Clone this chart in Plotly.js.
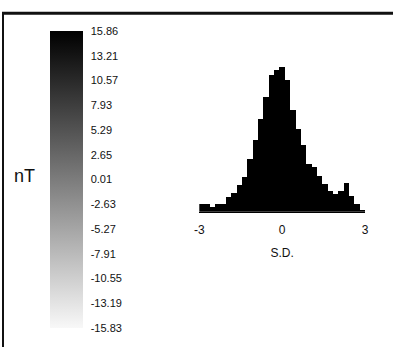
<!DOCTYPE html>
<html>
<head>
<meta charset="utf-8">
<script src="https://cdn.plot.ly/plotly-3.0.1.min.js"></script>
<style>
  html, body { margin: 0; padding: 0; background: #fff; }
  #chart { width: 393px; height: 347px; }
</style>
</head>
<body>
<div id="chart"></div>
<script>
// Colour bar (nT)
const cbTickVals = [15.86, 13.21, 10.57, 7.93, 5.29, 2.65, 0.01, -2.63, -5.27, -7.91, -10.55, -13.19, -15.83];
const cbTickText = ["15.86", "13.21", "10.57", "7.93", "5.29", "2.65", "0.01", "-2.63", "-5.27", "-7.91", "-10.55", "-13.19", "-15.83"];
const cbMin = -15.83;
const cbMax = 15.86;

// Histogram (S.D.)
const binCenters = [-2.903, -2.710, -2.516, -2.323, -2.129, -1.935, -1.742, -1.548, -1.355, -1.161,
                    -0.968, -0.774, -0.581, -0.387, -0.194, 0.000, 0.194, 0.387, 0.581, 0.774,
                    0.968, 1.161, 1.355, 1.548, 1.742, 1.935, 2.129, 2.323, 2.516, 2.710, 2.903];
const binCounts = [8, 8, 5, 8, 8, 15, 19, 27, 35, 53,
                   72, 93, 115, 137, 142, 145, 132, 102, 83, 67,
                   48, 45, 36, 28, 21, 18, 21, 29, 16, 8, 2];
const xTickVals = [-3, 0, 3];
const xTickText = ["-3", "0", "3"];

const W = 393, H = 347;
const FONT = "Liberation Sans, Arial, sans-serif";

const traces = [
  {
    type: "bar",
    x: binCenters,
    y: binCounts,
    marker: { color: "#000000", line: { width: 0 } },
    xaxis: "x", yaxis: "y",
    hoverinfo: "none"
  },
  {
    type: "scatter",
    mode: "markers",
    x: [0], y: [0],
    xaxis: "x2", yaxis: "y2",
    hoverinfo: "none",
    marker: {
      opacity: 0,
      color: [cbMin],
      cmin: cbMin, cmax: cbMax,
      colorscale: [[0, "#f8f8f8"], [1, "#000000"]],
      showscale: true,
      colorbar: {
        x: 50 / W, xanchor: "left", xpad: 0,
        y: 1 - 31 / H, yanchor: "top", ypad: 0,
        len: 297, lenmode: "pixels",
        thickness: 33, thicknessmode: "pixels",
        outlinewidth: 0,
        tickmode: "array",
        tickvals: cbTickVals,
        ticktext: cbTickText,
        ticks: "outside", ticklen: 6, tickcolor: "rgba(0,0,0,0)",
        tickfont: { family: FONT, size: 11, color: "#111" }
      }
    }
  }
];

const layout = {
  width: W, height: H,
  margin: { l: 0, r: 0, t: 0, b: 0 },
  paper_bgcolor: "#ffffff",
  plot_bgcolor: "rgba(0,0,0,0)",
  showlegend: false,
  bargap: 0,
  font: { family: FONT, color: "#111" },
  xaxis: {
    domain: [199.3 / W, 365 / W],
    range: [-3, 3],
    tickmode: "array", tickvals: xTickVals, ticktext: xTickText,
    showgrid: false, zeroline: false,
    showline: true, linecolor: "#000", linewidth: 1,
    ticks: "outside", ticklen: 7, tickcolor: "rgba(0,0,0,0)",
    tickfont: { family: FONT, size: 12, color: "#111" },
    title: { text: "S.D.", font: { family: FONT, size: 12, color: "#111" }, standoff: 12 },
    fixedrange: true
  },
  yaxis: {
    domain: [1 - 211.7 / H, 1 - 66.7 / H],
    range: [0, 145],
    visible: false, showgrid: false, zeroline: false,
    fixedrange: true
  },
  xaxis2: { domain: [0, 0.01], visible: false, anchor: "y2" },
  yaxis2: { domain: [0, 0.01], visible: false, anchor: "x2" },
  annotations: [
    {
      text: "nT", xref: "paper", yref: "paper",
      x: 24 / W, y: 1 - 176 / H, xanchor: "center", yanchor: "middle",
      showarrow: false, font: { family: FONT, size: 18, color: "#111" }
    }
  ],
  shapes: [
    { type: "line", xref: "paper", yref: "paper", x0: 2 / W, x1: 1, y0: 1 - 13.3 / H, y1: 1 - 13.3 / H,
      line: { color: "#111", width: 3 } },
    { type: "line", xref: "paper", yref: "paper", x0: 3 / W, x1: 3 / W, y0: 1 - 12 / H, y1: 0,
      line: { color: "#111", width: 2 } }
  ]
};

Plotly.newPlot("chart", traces, layout, { staticPlot: true, displayModeBar: false });
</script>
</body>
</html>
